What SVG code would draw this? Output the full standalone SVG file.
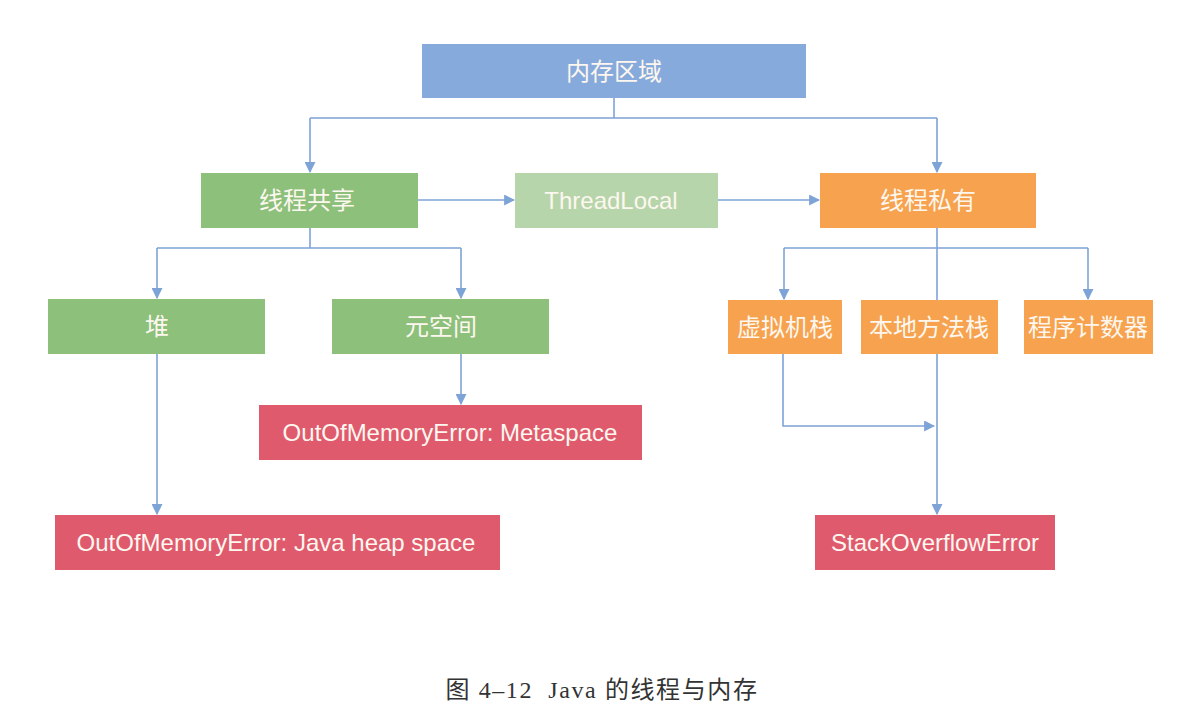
<svg xmlns="http://www.w3.org/2000/svg" width="1184" height="727" viewBox="0 0 1184 727">
<defs>
<marker id="arr" viewBox="0 0 10 10" refX="9" refY="5" markerWidth="11" markerHeight="11" markerUnits="userSpaceOnUse" orient="auto">
<path d="M0,0 L10,5 L0,10 z" fill="#7ea3d6"/>
</marker>
<style>
.t{font-family:"Liberation Sans","Noto Sans CJK SC",sans-serif;font-size:24px;fill:#fdf7ef;text-anchor:middle;dominant-baseline:central}
.blue{fill:#87aadc}.green{fill:#8cc07b}.lgreen{fill:#b6d5aa}.orange{fill:#f7a24e}.red{fill:#e05a6e}
.c{fill:none;stroke:#7ea3d6;stroke-width:1.6}
.cap{font-family:"Liberation Serif","Noto Sans CJK SC",serif;font-size:24px;fill:#333;text-anchor:middle;white-space:pre;letter-spacing:1.6px}
</style>
</defs>
<rect width="1184" height="727" fill="#ffffff"/>
<g id="connectors">
<path class="c" d="M614,98 V118 M310,118 H937"/>
<path class="c" d="M310,118 V172" marker-end="url(#arr)"/>
<path class="c" d="M937,118 V172" marker-end="url(#arr)"/>
<path class="c" d="M418,200 H514" marker-end="url(#arr)"/>
<path class="c" d="M718,200 H819" marker-end="url(#arr)"/>
<path class="c" d="M310,228 V248 M157,248 H461"/>
<path class="c" d="M157,248 V298" marker-end="url(#arr)"/>
<path class="c" d="M461,248 V298" marker-end="url(#arr)"/>
<path class="c" d="M461,353 V404" marker-end="url(#arr)"/>
<path class="c" d="M157,353 V514" marker-end="url(#arr)"/>
<path class="c" d="M937,228 V300 M784,248 H1088"/>
<path class="c" d="M784,248 V299" marker-end="url(#arr)"/>
<path class="c" d="M1088,248 V299" marker-end="url(#arr)"/>
<path class="c" d="M783,354 V426 H934" marker-end="url(#arr)"/>
<path class="c" d="M937,354 V514" marker-end="url(#arr)"/>
</g>
<g id="memory"><rect class="blue" x="422" y="44" width="384" height="54"/><text class="t" x="614" y="71">内存区域</text></g>
<g id="shared"><rect class="green" x="201" y="173" width="217" height="55"/><text class="t" x="307" y="200">线程共享</text></g>
<g id="threadlocal"><rect class="lgreen" x="515" y="173" width="203" height="55"/><text class="t" x="611" y="200">ThreadLocal</text></g>
<g id="private"><rect class="orange" x="820" y="173" width="216" height="55"/><text class="t" x="928" y="200">线程私有</text></g>
<g id="heap"><rect class="green" x="48" y="299" width="217" height="55"/><text class="t" x="157" y="326">堆</text></g>
<g id="metaspace"><rect class="green" x="332" y="299" width="217" height="55"/><text class="t" x="441" y="326">元空间</text></g>
<g id="vmstack"><rect class="orange" x="728" y="300" width="114" height="54"/><text class="t" x="785" y="327">虚拟机栈</text></g>
<g id="nativestack"><rect class="orange" x="861" y="300" width="137" height="54"/><text class="t" x="929" y="327">本地方法栈</text></g>
<g id="pc"><rect class="orange" x="1024" y="300" width="129" height="54"/><text class="t" x="1088" y="327">程序计数器</text></g>
<g id="oom-meta"><rect class="red" x="259" y="405" width="383" height="55"/><text class="t" x="450" y="432">OutOfMemoryError: Metaspace</text></g>
<g id="oom-heap"><rect class="red" x="55" y="515" width="445" height="55"/><text class="t" x="276" y="542">OutOfMemoryError: Java heap space</text></g>
<g id="soe"><rect class="red" x="815" y="515" width="240" height="55"/><text class="t" x="935" y="542">StackOverflowError</text></g>
<text class="cap" x="602" y="698">图 4–12  Java 的线程与内存</text>
</svg>
